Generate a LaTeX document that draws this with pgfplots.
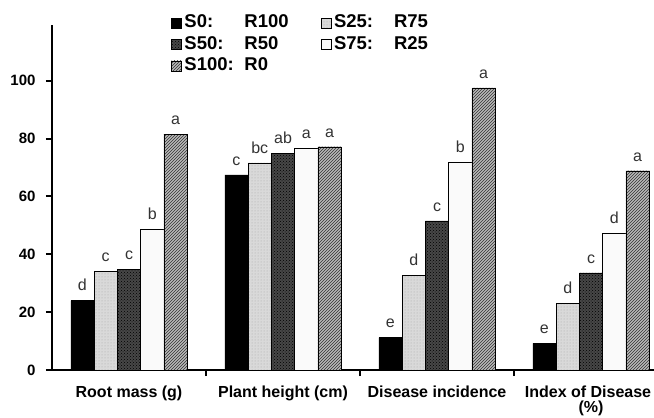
\documentclass[border=0pt]{standalone}
\usepackage{pgfplots}
\pgfplotsset{compat=1.18}
\usepackage{fontspec}
\setmainfont{Liberation Sans}
\usetikzlibrary{patterns}

% group order: Root mass, Plant height, Disease incidence, Index of Disease
\pgfplotstableread{
x   y     lab
0   24.0  d
1   67.5  c
2   11.2  e
3   9.2   e
}\tSzero
\pgfplotstableread{
x   y     lab
0   34.1  c
1   71.6  bc
2   32.8  d
3   23.0  d
}\tStwentyfive
\pgfplotstableread{
x   y     lab
0   34.9  c
1   74.9  ab
2   51.6  c
3   33.6  c
}\tSfifty
\pgfplotstableread{
x   y     lab
0   48.6  b
1   76.6  a
2   72.0  b
3   47.2  d
}\tSseventyfive
\pgfplotstableread{
x   y     lab
0   81.6  a
1   77.2  a
2   97.6  a
3   68.9  a
}\tShundred

\newcommand\legtxt[2]{\makebox[60pt][l]{#1}\makebox[68pt][l]{#2}}

\begin{document}
\begin{tikzpicture}
\begin{axis}[
  scale only axis,
  width=602pt, height=345pt,
  xmin=-0.5, xmax=3.409,
  ymin=0, ymax=119.3,
  ybar=0pt,
  bar width=23.3pt,
  axis x line*=bottom,
  axis y line*=left,
  axis line style={line width=2.2pt},
  tick align=outside,
  major tick length=6pt,
  tick style={line width=2pt, black},
  ytick={0,20,...,100},
  yticklabel style={font=\fontsize{15}{17}\selectfont\bfseries, xshift=-7pt},
  /pgf/number format/assume math mode=true,
  xtick={0.5,1.5,2.5},
  xticklabels={},
  extra x ticks={0,1,2,3},
  extra x tick labels={Root mass (g),Plant height (cm),Disease incidence,{\hspace*{-6pt}Index of Disease\\[-1pt](\%)}},
  extra x tick style={major tick length=0pt,
    xticklabel style={font=\fontsize{16}{16.5}\selectfont\bfseries, align=center, yshift=-12pt}},
  point meta=explicit symbolic,
  nodes near coords,
  every node near coord/.append style={font=\fontsize{16}{18}\selectfont, black!80, yshift=6pt},
  legend columns=2,
  legend style={at={(0.193,1.043)}, anchor=north west, draw=none, fill=none,
    font=\fontsize{18.5}{21}\selectfont\bfseries,
    nodes={text height=13pt, text depth=3pt, inner sep=2.5pt},
    /tikz/every even column/.append style={column sep=6pt},
    row sep=0.5pt},
  legend cell align=left,
  legend image code/.code={\draw[#1, line width=0.6pt] (0pt,-5pt) rectangle (10pt,5pt);},
  clip=false,
]
\addplot[draw=black, fill=black] table[x=x, y=y, meta=lab] {\tSzero};
\addplot[draw=black, fill=gray!30, postaction={pattern=dots, pattern color=gray!70}] table[x=x, y=y, meta=lab] {\tStwentyfive};
\addplot[draw=black, fill=black!72, postaction={pattern=crosshatch dots, pattern color=black}] table[x=x, y=y, meta=lab] {\tSfifty};
\addplot[draw=black, fill=gray!4] table[x=x, y=y, meta=lab] {\tSseventyfive};
\addplot[draw=black, fill=gray!55, postaction={pattern=north east lines, pattern color=black!80}] table[x=x, y=y, meta=lab] {\tShundred};
\legend{\legtxt{S0:}{R100},\legtxt{S25:}{R75},\legtxt{S50:}{R50},\legtxt{S75:}{R25},\legtxt{S100:}{R0}}
\end{axis}
\pgfresetboundingbox
\useasboundingbox (-52pt,-48pt) rectangle (602pt,370pt);
\end{tikzpicture}
\end{document}
